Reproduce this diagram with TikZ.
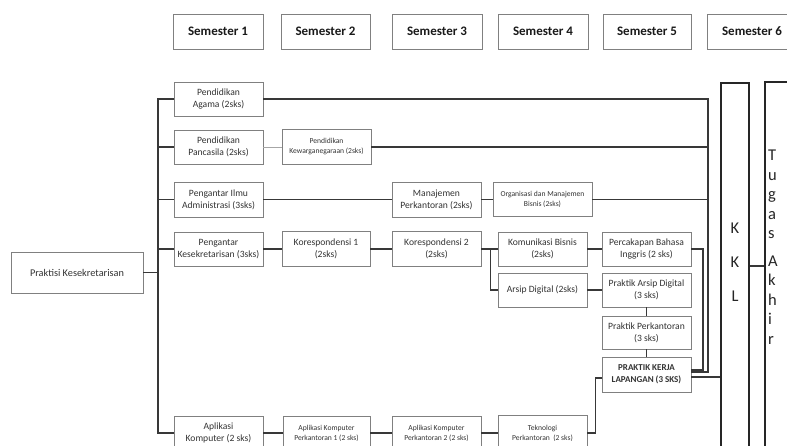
\documentclass[tikz,border=0pt]{standalone}
\usepackage{fontspec}
\setmainfont{Carlito}
\begin{document}
\begin{tikzpicture}[x=1pt,y=-1pt,
  box/.style={draw=black!50, line width=0.8pt, fill=white, align=center, inner sep=1pt,
    text=black!80, minimum width=89pt, minimum height=34pt, font=\fontsize{9.6}{12}\selectfont},
  small/.style={font=\fontsize{7.6}{10}\selectfont},
  sem/.style={draw=black!50, line width=0.8pt, text=black!90, minimum width=90pt, minimum height=35pt,
    font=\bfseries\fontsize{13}{14}\selectfont},
  link/.style={draw=black!78, line width=1.1pt},
  faint/.style={draw=black!35, line width=0.8pt},
  bigbox/.style={draw=black!85, line width=1.6pt, minimum height=380pt},
  letters/.style={align=left, text=black!85, font=\fontsize{16.5}{19.5}\selectfont, inner sep=0pt}]
\useasboundingbox (0,0) rectangle (787,446);
\clip (0,0) rectangle (787,446);

% semester headers
\node[sem] (s1) at (218,31.5) {Semester 1};
\node[sem, minimum width=89pt] (s2) at (325.5,31.5) {Semester 2};
\node[sem] (s3) at (437,31.5) {Semester 3};
\node[sem] (s4) at (543,31.5) {Semester 4};
\node[sem, minimum width=88pt] (s5) at (647,31.5) {Semester 5};
\node[sem, minimum width=90pt] (s6) at (752,31.5) {Semester 6};

% root
\node[box, minimum width=132pt, minimum height=41pt, font=\fontsize{10.3}{12}\selectfont] (prak) at (77,272.5) {Praktisi Kesekretarisan};

% semester 1
\node[box] (agama) at (218.5,99) {Pendidikan\\Agama (2sks)};
\node[box] (pancasila) at (218.5,147) {Pendidikan\\Pancasila (2sks)};
\node[box, minimum height=35pt] (ilmu) at (218.5,199.5) {Pengantar Ilmu\\Administrasi (3sks)};
\node[box] (kesek) at (218.5,249) {Pengantar\\Kesekretarisan (3sks)};
\node[box] (aplikasi) at (218.5,433) {Aplikasi\\Komputer (2 sks)};

% semester 2
\node[box, small, minimum height=35pt] (kewar) at (326.5,147) {Pendidikan\\Kewarganegaraan (2sks)};
\node[box, minimum width=88pt, minimum height=35pt] (kor1) at (326,249) {Korespondensi 1\\(2sks)};
\node[box, small, minimum width=87pt] (akp1) at (326.5,433) {Aplikasi Komputer\\Perkantoran 1 (2 sks)};

% semester 3
\node[box, minimum height=35pt] (manaj) at (436.5,199.5) {Manajemen\\Perkantoran (2sks)};
\node[box, minimum height=35pt] (kor2) at (436.5,249) {Korespondensi 2\\(2sks)};
\node[box, small] (akp2) at (436.5,433) {Aplikasi Komputer\\Perkantoran 2 (2 sks)};

% semester 4
\node[box, small, minimum width=99pt] (org) at (542.5,199.5) {Organisasi dan Manajemen\\Bisnis (2sks)};
\node[box] (komb) at (542.5,249) {Komunikasi Bisnis\\(2sks)};
\node[box] (arsip) at (542.5,290) {Arsip Digital (2sks)};
\node[box, small, minimum height=35pt] (tek) at (542.5,433) {Teknologi\\Perkantoran\ \ (2 sks)};

% semester 5
\node[box] (perc) at (646.5,249) {Percakapan Bahasa\\Inggris (2 sks)};
\node[box] (pad) at (646.5,290) {Praktik Arsip Digital\\(3 sks)};
\node[box, minimum height=33pt] (pp) at (646.5,332.5) {Praktik Perkantoran\\(3 sks)};
\node[box, minimum height=35pt, font=\bfseries\fontsize{9}{12}\selectfont] (pkl) at (646.5,374.5) {PRAKTIK KERJA\\LAPANGAN (3 SKS)};

% semester 6
\node[bigbox, minimum width=28pt] (kkl) at (735,273) {};
\node[letters, align=center] (kkltext) at (735,262) {K\\[14.5pt]K\\[14.5pt]L};
\node[bigbox, minimum width=50pt] (ta) at (790,272) {};
\node[letters, anchor=north west] (tatext) at (768,150) {T\\u\\g\\a\\s\\[8pt]A\\k\\h\\i\\r};

% helper coordinates
\coordinate (tr) at (158,0);
\coordinate (r1) at (708,0);
\coordinate (r2) at (703,0);
\coordinate (kt) at (0,266);
\coordinate (pkla) at ([yshift=2.5pt]pkl.east);
\coordinate (pklb) at ([yshift=4.5pt]pkl.east);
\coordinate (pklc) at ([yshift=-2.5pt]pkl.east);
\coordinate (pkld) at ([yshift=-3.5pt]pkl.west);

% trunk
\draw[link] (agama.west) -| (tr |- aplikasi.west) -- (aplikasi.west);
\draw[link] (prak.east) -- (prak.east -| tr);
\foreach \n in {pancasila,ilmu,kesek} \draw[link] (\n.west) -- (\n.west -| tr);

% row links
\draw[faint] (pancasila.east) -- (kewar.west);
\draw[link] (ilmu.east) -- (manaj.west);
\draw[link] (manaj.east) -- (org.west);
\draw[link] (kesek.east) -- (kor1.west);
\draw[link] (kor1.east) -- (kor2.west);
\draw[link] (kor2.east) -- (komb.west);
\draw[link] (kor2.east) -- ++(9,0) |- (arsip.west);
\draw[link] (komb.east) -- (perc.west);
\draw[link] (arsip.east) -- (pad.west);
\draw[link] (pad.south) -- (pp.north);
\draw[link] (pp.south) -- (pkl.north);
\draw[link] (aplikasi.east) -- (akp1.west);
\draw[link] (akp1.east) -- (akp2.west);
\draw[link] (akp2.east) -- (tek.west);
\draw[link] (tek.east) -- ++(8,0) |- (pkld);

% right-hand collectors
\draw[link] (agama.east) -| (r1 |- pkla) -- (pkla);
\draw[link] (kewar.east) -- (kewar.east -| r1);
\draw[link] (org.east) -- (org.east -| r1);
\draw[link] (perc.east) -| (r2 |- pklb) -- (pklb);
\draw[link] (pklc) -- (pklc -| kkl.west);
\draw[link] (kkl.east |- kt) -- (ta.west |- kt);
\end{tikzpicture}
\end{document}
